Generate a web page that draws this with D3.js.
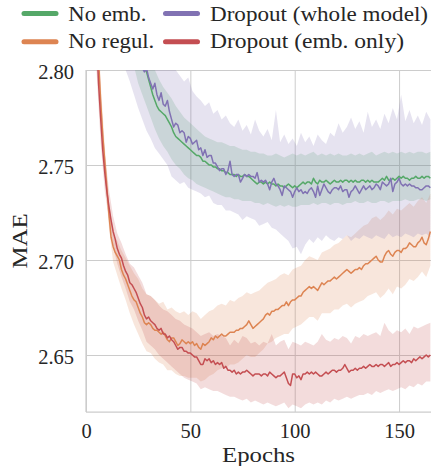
<!DOCTYPE html>
<html>
<head>
<meta charset="utf-8">
<script src="https://cdn.jsdelivr.net/npm/d3@7"></script>
<style>
  body { margin: 0; background: #ffffff; }
  svg { display: block; }
</style>
</head>
<body>
<svg id="chart" width="431" height="466"></svg>
<script>
// ---- data -------------------------------------------------------------
// mean validation MAE per epoch (epochs 0..165)
const epochs = d3.range(0, 166);
// confidence band sampled on odd epochs (1..165)
const bandEpochs = d3.range(1, 166, 2);

const seriesNames = ["No emb.", "No regul.", "Dropout (whole model)", "Dropout (emb. only)"];
const seriesColors = ["#55a868", "#dd8452", "#8172b3", "#c44e52"];

const noEmbMean = [
  3.12, 3.08, 3.05, 3.02, 2.995, 2.975, 2.955, 2.94, 2.925, 2.912,
  2.90, 2.89, 2.88, 2.871, 2.863, 2.856, 2.849, 2.843, 2.837, 2.832,
  2.827, 2.823, 2.819, 2.815, 2.812, 2.809, 2.806, 2.803, 2.801, 2.799,
  2.795, 2.791, 2.787, 2.784, 2.781, 2.779, 2.778, 2.777, 2.776, 2.774,
  2.772, 2.770, 2.767, 2.765, 2.764, 2.763, 2.762, 2.761, 2.760, 2.759,
  2.758, 2.757, 2.756, 2.755, 2.755, 2.754, 2.752, 2.752, 2.751, 2.750,
  2.750, 2.749, 2.749, 2.748, 2.748, 2.747, 2.747, 2.746, 2.746, 2.745,
  2.745, 2.745, 2.744, 2.745, 2.744, 2.744, 2.745, 2.744, 2.744, 2.743,
  2.742, 2.741, 2.740, 2.741, 2.741, 2.740, 2.741, 2.740, 2.741, 2.740,
  2.740, 2.739, 2.740, 2.739, 2.739, 2.738, 2.739, 2.740, 2.739, 2.738,
  2.739, 2.738, 2.739, 2.740, 2.741, 2.740, 2.741, 2.741, 2.740, 2.743,
  2.741, 2.740, 2.742, 2.741, 2.741, 2.742, 2.741, 2.740, 2.741, 2.742,
  2.741, 2.741, 2.742, 2.741, 2.742, 2.742, 2.741, 2.742, 2.741, 2.742,
  2.741, 2.741, 2.742, 2.742, 2.741, 2.742, 2.741, 2.742, 2.741, 2.741,
  2.741, 2.742, 2.743, 2.742, 2.744, 2.742, 2.742, 2.743, 2.742, 2.743,
  2.744, 2.743, 2.744, 2.743, 2.743, 2.742, 2.743, 2.743, 2.744, 2.743,
  2.743, 2.744, 2.743, 2.744, 2.744, 2.743
];
const noEmbHi = [
  3.11, 3.05, 3.00, 2.965, 2.935, 2.912, 2.893, 2.877, 2.864, 2.852,
  2.842, 2.833, 2.825, 2.818, 2.812, 2.806, 2.800, 2.795, 2.791, 2.788,
  2.785, 2.781, 2.778, 2.775, 2.773, 2.771, 2.769, 2.767, 2.765, 2.764,
  2.763, 2.762, 2.762, 2.761, 2.760, 2.760, 2.759, 2.758, 2.758, 2.757,
  2.757, 2.756, 2.756, 2.755, 2.755, 2.756, 2.755, 2.754, 2.755, 2.756,
  2.755, 2.756, 2.755, 2.756, 2.757, 2.755, 2.756, 2.755, 2.756, 2.755,
  2.756, 2.755, 2.755, 2.756, 2.755, 2.756, 2.755, 2.756, 2.757, 2.755,
  2.756, 2.757, 2.756, 2.757, 2.756, 2.757, 2.756, 2.757, 2.756, 2.757,
  2.757, 2.756, 2.757
];
const noEmbLo = [
  3.05, 2.99, 2.95, 2.915, 2.888, 2.866, 2.848, 2.834, 2.824, 2.816,
  2.809, 2.802, 2.793, 2.787, 2.781, 2.775, 2.769, 2.764, 2.760, 2.757,
  2.753, 2.750, 2.748, 2.745, 2.743, 2.742, 2.740, 2.739, 2.738, 2.737,
  2.736, 2.735, 2.734, 2.733, 2.733, 2.732, 2.732, 2.731, 2.731, 2.731,
  2.730, 2.730, 2.729, 2.730, 2.729, 2.728, 2.729, 2.728, 2.729, 2.728,
  2.728, 2.729, 2.729, 2.729, 2.730, 2.729, 2.730, 2.730, 2.729, 2.730,
  2.730, 2.729, 2.730, 2.730, 2.731, 2.730, 2.730, 2.731, 2.730, 2.730,
  2.731, 2.731, 2.730, 2.731, 2.731, 2.731, 2.732, 2.731, 2.731, 2.732,
  2.732, 2.731, 2.732
];

const noRegulMean = [
  3.40, 3.15, 3.02, 2.94, 2.88, 2.835, 2.806, 2.784, 2.766, 2.752,
  2.738, 2.724, 2.712, 2.707, 2.704, 2.702, 2.700, 2.695, 2.692, 2.690,
  2.687, 2.684, 2.681, 2.679, 2.678, 2.675, 2.672, 2.670, 2.667, 2.666,
  2.667, 2.666, 2.664, 2.663, 2.663, 2.662, 2.661, 2.662, 2.660, 2.658,
  2.657, 2.659, 2.659, 2.657, 2.655, 2.656, 2.658, 2.657, 2.656, 2.657,
  2.656, 2.657, 2.655, 2.656, 2.654, 2.653, 2.656, 2.655, 2.656, 2.657,
  2.659, 2.658, 2.660, 2.659, 2.660, 2.661, 2.660, 2.660, 2.661, 2.662,
  2.662, 2.662, 2.663, 2.663, 2.664, 2.664, 2.665, 2.666, 2.668, 2.666,
  2.664, 2.665, 2.666, 2.667, 2.668, 2.669, 2.671, 2.672, 2.671, 2.673,
  2.673, 2.674, 2.674, 2.675, 2.676, 2.676, 2.678, 2.676, 2.678, 2.679,
  2.679, 2.680, 2.681, 2.681, 2.683, 2.684, 2.685, 2.686, 2.685, 2.686,
  2.685, 2.684, 2.686, 2.688, 2.687, 2.688, 2.689, 2.689, 2.690, 2.691,
  2.690, 2.691, 2.692, 2.693, 2.694, 2.695, 2.694, 2.693, 2.694, 2.695,
  2.695, 2.696, 2.695, 2.697, 2.698, 2.698, 2.699, 2.700, 2.701, 2.702,
  2.700, 2.699, 2.699, 2.702, 2.704, 2.705, 2.703, 2.702, 2.704, 2.705,
  2.705, 2.704, 2.706, 2.706, 2.707, 2.709, 2.708, 2.707, 2.707, 2.709,
  2.710, 2.712, 2.709, 2.708, 2.711, 2.715
];
const noRegulHi = [
  3.19, 2.96, 2.85, 2.794, 2.760, 2.731, 2.714, 2.710, 2.705, 2.701,
  2.697, 2.693, 2.690, 2.685, 2.682, 2.681, 2.679, 2.677, 2.678, 2.674,
  2.675, 2.673, 2.672, 2.673, 2.671, 2.673, 2.672, 2.669, 2.671, 2.673,
  2.674, 2.676, 2.677, 2.676, 2.679, 2.678, 2.680, 2.681, 2.683, 2.682,
  2.683, 2.684, 2.686, 2.688, 2.689, 2.690, 2.692, 2.693, 2.692, 2.695,
  2.696, 2.697, 2.700, 2.702, 2.701, 2.700, 2.704, 2.705, 2.706, 2.708,
  2.709, 2.711, 2.713, 2.712, 2.714, 2.716, 2.718, 2.719, 2.722, 2.723,
  2.721, 2.723, 2.726, 2.724, 2.727, 2.726, 2.728, 2.730, 2.728, 2.731,
  2.733, 2.730, 2.735
];
const noRegulLo = [
  3.11, 2.92, 2.82, 2.774, 2.744, 2.717, 2.699, 2.692, 2.685, 2.679,
  2.672, 2.666, 2.661, 2.656, 2.652, 2.651, 2.648, 2.646, 2.645, 2.642,
  2.642, 2.640, 2.639, 2.639, 2.638, 2.638, 2.638, 2.636, 2.637, 2.639,
  2.640, 2.642, 2.643, 2.643, 2.645, 2.645, 2.646, 2.648, 2.650, 2.649,
  2.649, 2.651, 2.653, 2.656, 2.657, 2.659, 2.660, 2.661, 2.661, 2.664,
  2.665, 2.666, 2.668, 2.670, 2.670, 2.668, 2.672, 2.672, 2.672, 2.674,
  2.674, 2.676, 2.677, 2.675, 2.677, 2.678, 2.679, 2.681, 2.682, 2.683,
  2.680, 2.682, 2.685, 2.682, 2.686, 2.685, 2.687, 2.690, 2.689, 2.691,
  2.694, 2.691, 2.697
];

const dropWholeMean = [
  3.14, 3.10, 3.06, 3.03, 3.00, 2.975, 2.955, 2.935, 2.918, 2.903,
  2.890, 2.879, 2.868, 2.859, 2.851, 2.844, 2.838, 2.832, 2.827, 2.823,
  2.819, 2.815, 2.812, 2.810, 2.807, 2.805, 2.803, 2.801, 2.799, 2.801,
  2.796, 2.793, 2.790, 2.793, 2.787, 2.784, 2.788, 2.782, 2.781, 2.784,
  2.778, 2.774, 2.770, 2.772, 2.771, 2.767, 2.768, 2.767, 2.762, 2.765,
  2.764, 2.761, 2.762, 2.763, 2.758, 2.759, 2.755, 2.758, 2.754, 2.755,
  2.755, 2.751, 2.751, 2.749, 2.747, 2.748, 2.748, 2.745, 2.747, 2.752,
  2.745, 2.744, 2.745, 2.745, 2.741, 2.743, 2.745, 2.744, 2.745, 2.744,
  2.744, 2.743, 2.746, 2.741, 2.742, 2.741, 2.742, 2.740, 2.737, 2.741,
  2.743, 2.740, 2.739, 2.737, 2.734, 2.739, 2.738, 2.737, 2.736, 2.733,
  2.736, 2.738, 2.736, 2.737, 2.735, 2.736, 2.735, 2.737, 2.738, 2.736,
  2.733, 2.739, 2.734, 2.737, 2.740, 2.738, 2.736, 2.735, 2.737, 2.738,
  2.738, 2.737, 2.739, 2.736, 2.737, 2.737, 2.733, 2.736, 2.737, 2.739,
  2.737, 2.735, 2.737, 2.739, 2.737, 2.738, 2.739, 2.737, 2.738, 2.740,
  2.739, 2.737, 2.741, 2.740, 2.739, 2.740, 2.743, 2.736, 2.740, 2.741,
  2.743, 2.740, 2.739, 2.740, 2.739, 2.740, 2.739, 2.739, 2.738, 2.738,
  2.737, 2.737, 2.738, 2.739, 2.739, 2.738
];
const dropWholeHi = [
  3.20, 3.07, 3.01, 2.97, 2.94, 2.915, 2.895, 2.878, 2.865, 2.855,
  2.846, 2.839, 2.833, 2.828, 2.823, 2.819, 2.815, 2.812, 2.809, 2.806,
  2.803, 2.800, 2.797, 2.794, 2.796, 2.789, 2.786, 2.784, 2.781, 2.783,
  2.777, 2.779, 2.774, 2.776, 2.772, 2.770, 2.774, 2.768, 2.771, 2.766,
  2.774, 2.768, 2.765, 2.769, 2.763, 2.779, 2.762, 2.766, 2.761, 2.764,
  2.760, 2.767, 2.762, 2.765, 2.760, 2.766, 2.763, 2.761, 2.767, 2.765,
  2.772, 2.767, 2.770, 2.775, 2.769, 2.773, 2.767, 2.778, 2.770, 2.774,
  2.769, 2.777, 2.772, 2.780, 2.774, 2.787, 2.773, 2.779, 2.772, 2.776,
  2.771, 2.778, 2.774
];
const dropWholeLo = [
  3.09, 3.00, 2.945, 2.905, 2.875, 2.851, 2.831, 2.816, 2.806, 2.800,
  2.794, 2.787, 2.780, 2.774, 2.768, 2.764, 2.759, 2.756, 2.753, 2.750,
  2.744, 2.742, 2.740, 2.741, 2.738, 2.737, 2.736, 2.735, 2.733, 2.734,
  2.730, 2.729, 2.729, 2.726, 2.726, 2.725, 2.724, 2.721, 2.723, 2.722,
  2.721, 2.718, 2.719, 2.720, 2.717, 2.716, 2.714, 2.712, 2.710, 2.706,
  2.707, 2.703, 2.708, 2.711, 2.709, 2.712, 2.710, 2.713, 2.711, 2.710,
  2.712, 2.711, 2.713, 2.710, 2.712, 2.711, 2.713, 2.712, 2.711, 2.713,
  2.712, 2.711, 2.714, 2.712, 2.713, 2.712, 2.714, 2.713, 2.712, 2.714,
  2.713, 2.714, 2.712
];

const dropEmbMean = [
  3.35, 3.10, 2.98, 2.91, 2.86, 2.82, 2.793, 2.775, 2.758, 2.746,
  2.736, 2.728, 2.721, 2.715, 2.711, 2.706, 2.703, 2.701, 2.697, 2.694,
  2.692, 2.688, 2.687, 2.685, 2.683, 2.680, 2.677, 2.675, 2.671, 2.669,
  2.670, 2.668, 2.667, 2.666, 2.664, 2.663, 2.664, 2.661, 2.661, 2.659,
  2.660, 2.658, 2.657, 2.655, 2.653, 2.654, 2.654, 2.652, 2.652, 2.651,
  2.651, 2.650, 2.649, 2.649, 2.647, 2.645, 2.645, 2.648, 2.647, 2.648,
  2.646, 2.647, 2.645, 2.646, 2.645, 2.646, 2.643, 2.644, 2.642, 2.642,
  2.641, 2.642, 2.640, 2.641, 2.640, 2.641, 2.641, 2.642, 2.641, 2.640,
  2.639, 2.640, 2.640, 2.640, 2.639, 2.640, 2.640, 2.639, 2.641, 2.640,
  2.639, 2.638, 2.639, 2.639, 2.640, 2.641, 2.638, 2.635, 2.634, 2.640,
  2.640, 2.638, 2.639, 2.637, 2.640, 2.640, 2.641, 2.640, 2.641, 2.640,
  2.641, 2.640, 2.639, 2.639, 2.640, 2.641, 2.640, 2.641, 2.642, 2.642,
  2.641, 2.642, 2.642, 2.643, 2.645, 2.643, 2.641, 2.642, 2.642, 2.643,
  2.642, 2.643, 2.643, 2.644, 2.643, 2.644, 2.645, 2.644, 2.644, 2.645,
  2.644, 2.645, 2.645, 2.644, 2.645, 2.646, 2.644, 2.645, 2.645, 2.646,
  2.645, 2.646, 2.647, 2.646, 2.647, 2.647, 2.646, 2.648, 2.647, 2.648,
  2.649, 2.648, 2.649, 2.650, 2.649, 2.650
];
const dropEmbHi = [
  3.14, 2.94, 2.84, 2.788, 2.756, 2.737, 2.723, 2.714, 2.709, 2.703,
  2.698, 2.696, 2.692, 2.688, 2.682, 2.681, 2.679, 2.676, 2.674, 2.673,
  2.671, 2.669, 2.668, 2.666, 2.665, 2.664, 2.662, 2.660, 2.661, 2.662,
  2.660, 2.661, 2.660, 2.659, 2.655, 2.658, 2.656, 2.660, 2.659, 2.656,
  2.657, 2.655, 2.657, 2.656, 2.661, 2.655, 2.657, 2.658, 2.653, 2.657,
  2.656, 2.655, 2.657, 2.656, 2.655, 2.657, 2.661, 2.658, 2.657, 2.659,
  2.658, 2.660, 2.659, 2.656, 2.660, 2.659, 2.661, 2.660, 2.661, 2.662,
  2.660, 2.667, 2.663, 2.661, 2.663, 2.662, 2.664, 2.661, 2.665, 2.664,
  2.665, 2.666, 2.667
];
const dropEmbLo = [
  3.06, 2.88, 2.80, 2.762, 2.736, 2.721, 2.707, 2.698, 2.691, 2.685,
  2.678, 2.674, 2.668, 2.663, 2.657, 2.655, 2.653, 2.650, 2.648, 2.646,
  2.644, 2.642, 2.640, 2.638, 2.637, 2.636, 2.635, 2.632, 2.633, 2.632,
  2.631, 2.631, 2.630, 2.629, 2.628, 2.628, 2.627, 2.626, 2.627, 2.625,
  2.626, 2.625, 2.624, 2.625, 2.624, 2.623, 2.624, 2.625, 2.622, 2.624,
  2.623, 2.622, 2.624, 2.625, 2.624, 2.625, 2.624, 2.626, 2.625, 2.627,
  2.626, 2.627, 2.628, 2.627, 2.628, 2.629, 2.629, 2.630, 2.629, 2.631,
  2.630, 2.631, 2.632, 2.631, 2.632, 2.633, 2.632, 2.634, 2.633, 2.635,
  2.634, 2.636, 2.636
];

const xTicks = [0, 50, 100, 150];
const xTickLabels = ["0", "50", "100", "150"];
const yTicks = [2.65, 2.70, 2.75, 2.80];
const yTickLabels = ["2.65", "2.70", "2.75", "2.80"];

// drawing order: bands first (all), then lines
const series = [
  { name: seriesNames[0], color: seriesColors[0], mean: noEmbMean, lo: noEmbLo, hi: noEmbHi },
  { name: seriesNames[1], color: seriesColors[1], mean: noRegulMean, lo: noRegulLo, hi: noRegulHi },
  { name: seriesNames[2], color: seriesColors[2], mean: dropWholeMean, lo: dropWholeLo, hi: dropWholeHi },
  { name: seriesNames[3], color: seriesColors[3], mean: dropEmbMean, lo: dropEmbLo, hi: dropEmbHi }
];

// ---- layout -----------------------------------------------------------
const plot = { left: 86, top: 70, right: 431, bottom: 412 };
const FONT = "Liberation Serif";
const INK = "#262626";
const GRID = "#cccccc";

const svg = d3.select("#chart");

function setFont(sel, size) {
  return sel.attr("font-family", FONT)
    .style("font-family", FONT)
    .style("font-size", size + "px")
    .attr("fill", INK);
}

const x = d3.scaleLinear().domain([0, 165.3]).range([plot.left, plot.right]);
const y = d3.scaleLinear().domain([2.62, 2.80]).range([plot.bottom, plot.top]);

// grid + tick labels
const gx = svg.append("g")
  .attr("transform", `translate(0,${plot.bottom})`)
  .call(d3.axisBottom(x)
    .tickValues(xTicks)
    .tickFormat((d, i) => xTickLabels[i])
    .tickSize(-(plot.bottom - plot.top))
    .tickPadding(11));

const gy = svg.append("g")
  .attr("transform", `translate(${plot.left},0)`)
  .call(d3.axisLeft(y)
    .tickValues(yTicks)
    .tickFormat((d, i) => yTickLabels[i])
    .tickSize(-(plot.right - plot.left))
    .tickPadding(12));

[gx, gy].forEach(g => {
  g.attr("font-family", FONT);
  g.select(".domain").remove();
  g.selectAll(".tick line").attr("stroke", GRID).attr("stroke-width", 1);
  setFont(g.selectAll(".tick text"), 20.5);
});
gy.selectAll(".tick text").attr("dy", "0.39em");

// clip region for data
svg.append("defs").append("clipPath").attr("id", "plot-clip")
  .append("rect")
  .attr("x", plot.left).attr("y", plot.top)
  .attr("width", plot.right - plot.left)
  .attr("height", plot.bottom - plot.top);

const dataLayer = svg.append("g").attr("clip-path", "url(#plot-clip)");

const area = s => d3.area()
  .x((d, i) => x(bandEpochs[i]))
  .y0((d, i) => y(s.lo[i]))
  .y1((d, i) => y(s.hi[i]));

const line = d3.line()
  .x((d, i) => x(epochs[i]))
  .y(d => y(d));

series.forEach(s => {
  dataLayer.append("path")
    .datum(bandEpochs)
    .attr("d", area(s))
    .attr("fill", s.color)
    .attr("fill-opacity", 0.2)
    .attr("stroke", "none");
});

series.forEach(s => {
  dataLayer.append("path")
    .datum(s.mean)
    .attr("d", line)
    .attr("fill", "none")
    .attr("stroke", s.color)
    .attr("stroke-width", 1.5)
    .attr("stroke-linejoin", "round");
});

// spines (left, bottom)
svg.append("line")
  .attr("x1", plot.left).attr("x2", plot.left)
  .attr("y1", plot.top).attr("y2", plot.bottom)
  .attr("stroke", GRID).attr("stroke-width", 1.25);
svg.append("line")
  .attr("x1", plot.left).attr("x2", plot.right)
  .attr("y1", plot.bottom).attr("y2", plot.bottom)
  .attr("stroke", GRID).attr("stroke-width", 1.25);

// axis labels
setFont(svg.append("text"), 22)
  .attr("x", 258.5).attr("y", 461.5)
  .attr("text-anchor", "middle")
  .attr("textLength", 73).attr("lengthAdjust", "spacingAndGlyphs")
  .text("Epochs");

setFont(svg.append("text"), 22)
  .attr("transform", "translate(27,241) rotate(-90)")
  .attr("text-anchor", "middle")
  .attr("textLength", 55).attr("lengthAdjust", "spacingAndGlyphs")
  .text("MAE");

// legend: two columns, filled column by column
const legendCols = [{ hx: 24, tx: 68.3 }, { hx: 165.5, tx: 210 }];
const legendRows = [{ ly: 13.6, ty: 20.8 }, { ly: 41.8, ty: 48.2 }];
const legendWidths = [78, 86, 218, 194];

const legend = svg.append("g");
series.forEach((s, i) => {
  const c = legendCols[Math.floor(i / 2)];
  const r = legendRows[i % 2];
  legend.append("line")
    .attr("x1", c.hx).attr("x2", c.hx + 32)
    .attr("y1", r.ly).attr("y2", r.ly)
    .attr("stroke", s.color)
    .attr("stroke-width", 5)
    .attr("stroke-linecap", "round");
  setFont(legend.append("text"), 21)
    .attr("x", c.tx).attr("y", r.ty)
    .attr("textLength", legendWidths[i]).attr("lengthAdjust", "spacingAndGlyphs")
    .text(s.name);
});
</script>
</body>
</html>
